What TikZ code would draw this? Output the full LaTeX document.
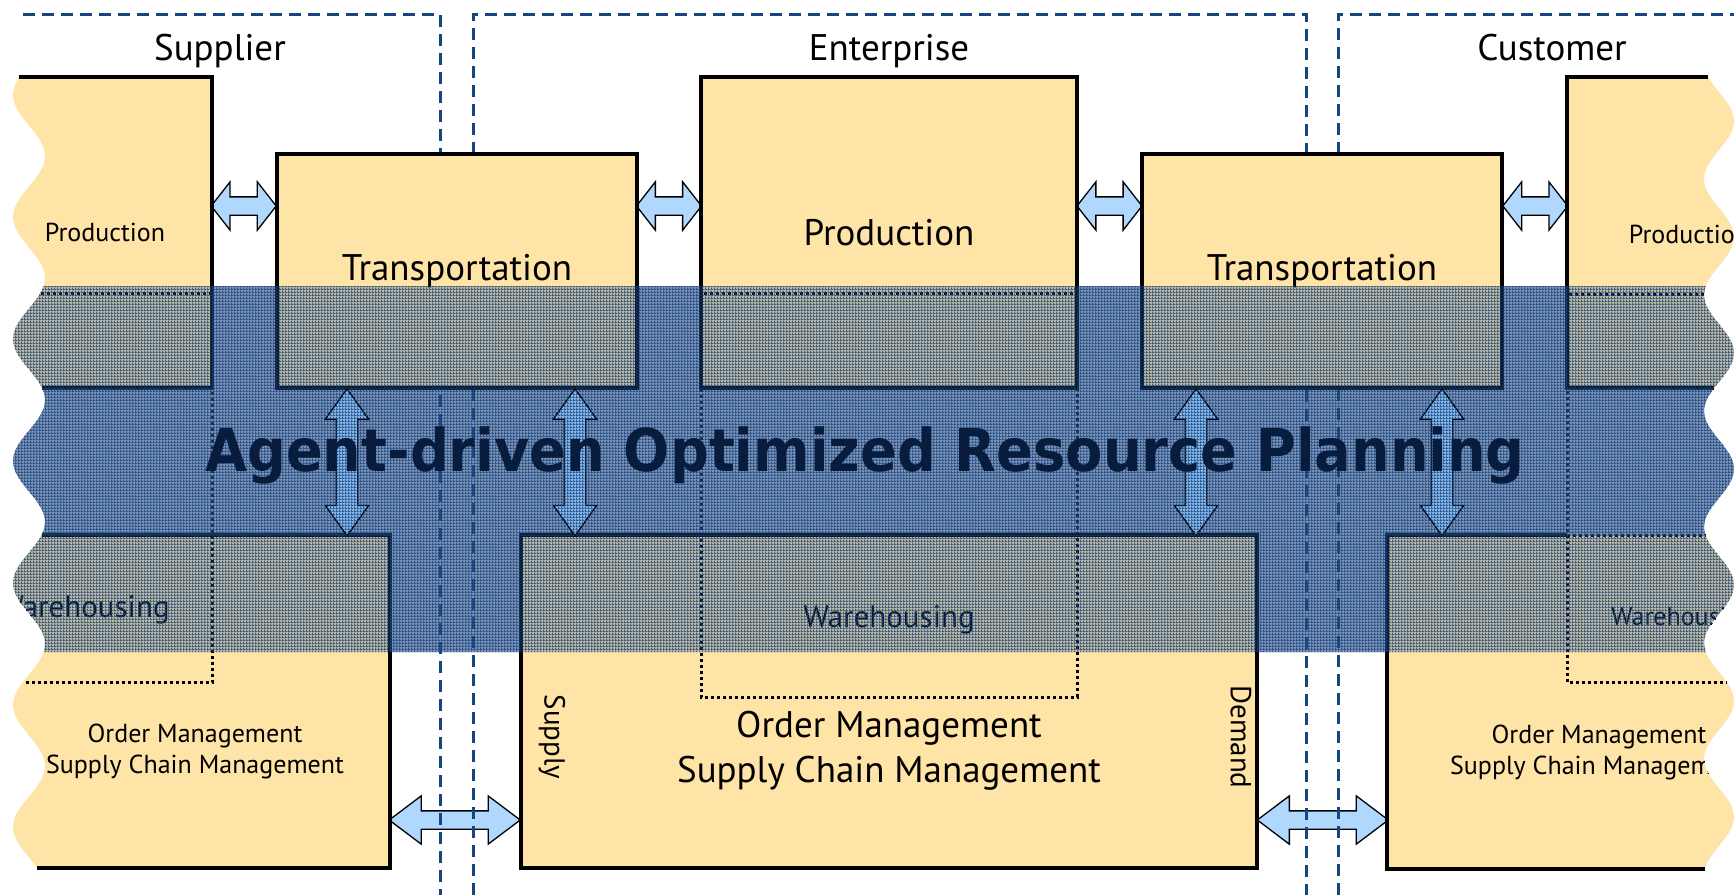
\documentclass[tikz,border=0pt]{standalone}
\usepackage{fontspec}
\setmainfont{PT Sans}
\newfontfamily\titlefont[FakeStretch=0.92]{DejaVu Sans}
\usepackage{tikz}
\usetikzlibrary{shapes.arrows, backgrounds, patterns.meta}
\definecolor{boxfill}{RGB}{255,228,168}
\definecolor{linkblue}{RGB}{176,216,255}
\definecolor{deeplink}{RGB}{128,178,228}
\definecolor{frameblue}{RGB}{22,70,130}
\definecolor{bandbase}{RGB}{40,80,140}
\definecolor{bandblue}{RGB}{35,75,130}
\definecolor{gridblue}{RGB}{16,60,120}
\definecolor{titlenavy}{RGB}{8,28,62}
\tikzdeclarepattern{
  name=bandgrid,
  type=uncolored,
  bottom left={(0pt,0pt)},
  top right={(3pt,3pt)},
  tile size={(3pt,3pt)},
  code={
    \fill (0pt,0pt) rectangle (3pt,1pt);
    \fill (0pt,1pt) rectangle (1pt,3pt);
  }
}
\tikzstyle{unit} = [rectangle, draw=black, line width=3.2pt, fill=boxfill, inner sep=0pt]
\tikzstyle{unitline} = [draw=black, line width=3.2pt]
\tikzstyle{wareline} = [draw=black, line width=3pt, dash pattern=on 3pt off 3pt]
\tikzstyle{firmline} = [draw=frameblue, line width=3pt, dash pattern=on 12pt off 7pt]
\tikzstyle{bigtxt} = [font=\fontsize{37}{45}\selectfont]
\tikzstyle{waretxt} = [font=\fontsize{31}{37}\selectfont]
\tikzstyle{sidetxt} = [font=\fontsize{29}{35}\selectfont, rotate=-90]
\tikzstyle{smalltxt} = [font=\fontsize{26}{31}\selectfont]
\tikzstyle{blockarrow} = [double arrow, draw=black, line width=1.3pt, fill=linkblue, inner xsep=0pt, minimum width=47, double arrow head extend=15, inner ysep=8.5]
\tikzstyle{harrow} = [blockarrow, minimum height=65, double arrow tip angle=104]
\tikzstyle{warrow} = [blockarrow, minimum height=131, double arrow tip angle=74]
\tikzstyle{varrow} = [blockarrow, fill=deeplink, rotate=90, minimum height=147, minimum width=42, double arrow head extend=11, inner ysep=10, double arrow tip angle=71]

\begin{document}
\begin{tikzpicture}[x=1pt, y=-1pt]
\useasboundingbox (0,0) rectangle (1734,895);

\node (suplabel) [bigtxt, anchor=base] at (220,60) {Supplier};
\node (entlabel) [bigtxt, anchor=base] at (889,60) {Enterprise};
\node (cuslabel) [bigtxt, anchor=base] at (1552,60) {Customer};

\node (strans) [unit, bigtxt, minimum width=360, minimum height=234] at (457,271) {Transportation};
\node (eprod) [unit, bigtxt, minimum width=376, minimum height=311] at (889,232.5) {Production};
\node (ctrans) [unit, bigtxt, minimum width=360, minimum height=234] at (1322,271) {Transportation};
\node (eord) [unit, minimum width=736, minimum height=333] at (889,701.5) {};

\fill[fill=boxfill] (212,77) -- plot[smooth, domain=77:388, samples=40] ({29-16*cos((\x-95)/122*360)},\x) -- (212,388) -- cycle;
\draw[unitline] (19.4,77) -- (212,77) -- (212,388) -- (42,388);
\node (sprodtxt) [smalltxt, anchor=base] at (105,241) {Production};

\fill[fill=boxfill, path picture={\node (swaretxt) [waretxt, anchor=base] at (84,617) {Warehousing};}] (390,535) -- plot[smooth, domain=535:868, samples=40] ({29-16*cos((\x-95)/122*360)},\x) -- (390,868) -- cycle;
\draw[unitline] (41.5,535) -- (390,535) -- (390,868) -- (37.2,868);
\node (sordtxt) [smalltxt, align=center] at (195,751) {Order Management\\Supply Chain Management};

\fill[fill=boxfill, path picture={\node (cprodtxt) [smalltxt, anchor=base] at (1689,243) {Production};}] (1567,77) -- plot[smooth, domain=77:388, samples=40] ({1719+15*cos((\x-585)/116*360)},\x) -- (1567,388) -- cycle;
\draw[unitline] (1708.1,77) -- (1567,77) -- (1567,388) -- (1714.2,388);

\fill[fill=boxfill, path picture={
  \node (cwaretxt) [smalltxt, anchor=base] at (1683,625) {Warehousing};
  \node (cordtxt) [smalltxt, align=center] at (1599,752) {Order Management\\Supply Chain Management};
}] (1387,535) -- plot[smooth, domain=535:869, samples=40] ({1719+15*cos((\x-585)/116*360)},\x) -- (1387,869) -- cycle;
\draw[unitline] (1567,535) -- (1387,535) -- (1387,869) -- (1704.8,869);

\draw[wareline] (40.5,293) -- (212,293) -- (212,682) -- (23,682);
\draw[wareline] (701,293) rectangle (1077,697);
\draw[wareline] (1704,294) -- (1567,294) -- (1567,682) -- (1726.7,682);
\draw[wareline] (1567,535) -- (1705.4,535);

\node (ewaretxt) [waretxt, anchor=base] at (889,627) {Warehousing};
\node (eordtxt) [bigtxt, align=center] at (889,751) {Order Management\\Supply Chain Management};
\node (supplytxt) [sidetxt] at (552,737) {Supply};
\node (demandtxt) [sidetxt] at (1241,737) {Demand};

\coordinate (sprodR) at (212,206);
\coordinate (cprodL) at (1567,206);
\coordinate (sordR) at (390,820);
\coordinate (cordL) at (1387,820);
\coordinate (sordT) at (347,535);
\coordinate (eordT1) at (575,535);
\coordinate (eordT2) at (1196,535);
\coordinate (cordT) at (1442,535);

\begin{pgfonlayer}{background}
\path (sprodR) -- (strans.west |- sprodR) node[midway, harrow] {};
\path (strans.east |- sprodR) -- (eprod.west |- sprodR) node[midway, harrow] {};
\path (eprod.east |- cprodL) -- (ctrans.west |- cprodL) node[midway, harrow] {};
\path (ctrans.east |- cprodL) -- (cprodL) node[midway, harrow] {};
\path (sordR) -- (eord.west |- sordR) node[midway, warrow] {};
\path (eord.east |- cordL) -- (cordL) node[midway, warrow] {};
\draw[firmline] (23,14) -- (440,14) -- (440,895);
\draw[firmline] (473,895) -- (473,14) -- (1306,14) -- (1306,895);
\draw[firmline] (1338,895) -- (1338,14) -- (1734,14);
\end{pgfonlayer}

\begin{scope}
\clip plot[smooth, domain=286:652, samples=40] ({29-16*cos((\x-95)/122*360)},\x) -- plot[smooth, domain=652:286, samples=40] ({1719+15*cos((\x-585)/116*360)},\x) -- cycle;
\fill[fill=bandbase, fill opacity=0.32] (0,280) rectangle (1734,660);
\fill[fill=bandblue, fill opacity=0.45, even odd rule] (0,280) rectangle (1734,660)
  (0,280) rectangle (212,388) (strans.north west) rectangle (strans.south east)
  (eprod.north west) rectangle (eprod.south east) (ctrans.north west) rectangle (ctrans.south east)
  (1567,280) rectangle (1734,388) (0,535) rectangle (390,660)
  (eord.north west) rectangle (eord.south east) (1387,535) rectangle (1734,660);
\path (strans.south -| sordT) -- (sordT) node[midway, varrow] {};
\path (strans.south -| eordT1) -- (eordT1) node[midway, varrow] {};
\path (ctrans.south -| eordT2) -- (eordT2) node[midway, varrow] {};
\path (ctrans.south -| cordT) -- (cordT) node[midway, varrow] {};
\fill[pattern=bandgrid, pattern color=gridblue, fill opacity=0.75] (0,280) rectangle (1734,660);
\end{scope}

\node (plantitle) [font=\titlefont\bfseries\fontsize{59}{70}\selectfont, text=titlenavy, anchor=base] at (865,471) {Agent-driven Optimized Resource Planning};
\end{tikzpicture}
\end{document}
